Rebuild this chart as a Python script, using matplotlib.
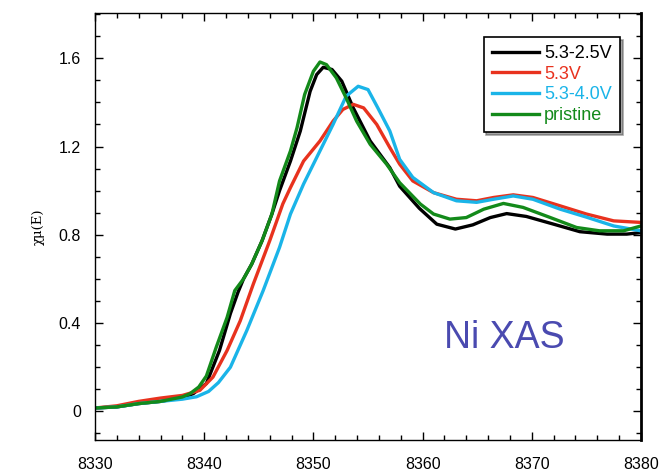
import matplotlib
matplotlib.use("Agg")
import matplotlib.pyplot as plt
from matplotlib.ticker import MultipleLocator

plt.rcParams['font.family'] = ['Liberation Sans', 'DejaVu Sans']

# energies (eV) and normalised absorption
x_black = [8330, 8332, 8334, 8336, 8338, 8339, 8340.2, 8341.4, 8342.4, 8343.1, 8343.6, 8344.35,
           8345.3, 8346.2, 8346.9, 8347.9, 8348.8, 8349.7, 8350.3, 8350.9, 8351.7, 8352.6,
           8353.65, 8355.2, 8357.0, 8357.9, 8359.7, 8361.3, 8363.0, 8364.6, 8366.2, 8367.7,
           8369.5, 8372.0, 8374.4, 8376.9, 8378.7, 8380]
y_black = [0.015, 0.02, 0.035, 0.045, 0.062, 0.08, 0.126, 0.276, 0.443, 0.54, 0.60, 0.667,
           0.773, 0.894, 1.0, 1.134, 1.27, 1.45, 1.526, 1.559, 1.549, 1.496,
           1.375, 1.225, 1.104, 1.02, 0.92, 0.848, 0.826, 0.845, 0.878, 0.896,
           0.883, 0.848, 0.814, 0.803, 0.803, 0.81]

x_red = [8330, 8332, 8334, 8336, 8338, 8339.6, 8340.8, 8342.1, 8343.3, 8344.5, 8346.0, 8347.2,
         8347.9, 8349.1, 8350.6, 8351.8, 8352.7, 8353.65, 8354.6, 8355.8, 8357.0, 8357.9,
         8359.1, 8361.0, 8363.1, 8364.95, 8366.5, 8368.3, 8370.1, 8372.6, 8375.0, 8377.5, 8380]
y_red = [0.015, 0.025, 0.045, 0.06, 0.072, 0.095, 0.155, 0.276, 0.41, 0.577, 0.773, 0.94,
         1.014, 1.134, 1.225, 1.315, 1.368, 1.391, 1.375, 1.30, 1.195, 1.12,
         1.044, 0.991, 0.961, 0.954, 0.969, 0.981, 0.969, 0.931, 0.894, 0.863, 0.856]

x_blue = [8330, 8332, 8334, 8336, 8338, 8339.3, 8340.4, 8341.3, 8342.4, 8343.9, 8345.4, 8346.9,
          8347.9, 8349.1, 8350.6, 8351.8, 8353.0, 8354.1, 8355.0, 8355.9, 8357.0, 8357.9,
          8359.1, 8361.0, 8363.1, 8364.95, 8366.5, 8368.3, 8370.1, 8372.6, 8375.0, 8377.5, 8380]
y_blue = [0.015, 0.02, 0.035, 0.045, 0.055, 0.066, 0.09, 0.13, 0.20, 0.366, 0.547, 0.743,
          0.894, 1.03, 1.18, 1.30, 1.428, 1.473, 1.458, 1.375, 1.27, 1.142,
          1.06, 0.991, 0.954, 0.947, 0.961, 0.976, 0.961, 0.916, 0.88, 0.84, 0.818]

x_green = [8330, 8332, 8334, 8336, 8338, 8338.7, 8339.5, 8340.2, 8341.1, 8342.1, 8342.8, 8343.6,
           8344.35, 8345.3, 8346.2, 8346.9, 8347.9, 8348.5, 8349.2, 8350.0, 8350.6, 8351.2,
           8352.1, 8353.0, 8353.96, 8355.2, 8356.7, 8357.9, 8359.8, 8361.0, 8362.5, 8364.0,
           8365.6, 8367.4, 8369.2, 8371.7, 8374.1, 8376.2, 8378.4, 8380]
y_green = [0.015, 0.02, 0.035, 0.045, 0.065, 0.08, 0.11, 0.16, 0.29, 0.426, 0.547, 0.60,
           0.667, 0.773, 0.894, 1.044, 1.18, 1.285, 1.436, 1.541, 1.583, 1.571,
           1.511, 1.42, 1.315, 1.21, 1.12, 1.036, 0.939, 0.894, 0.871, 0.878,
           0.916, 0.942, 0.924, 0.878, 0.833, 0.818, 0.818, 0.84]

labels = ['5.3-2.5V', '5.3V', '5.3-4.0V', 'pristine']
colors = ['#000000', '#e8321e', '#1ab4e8', '#138a1a']

fig = plt.figure(figsize=(6.66, 4.74), dpi=100)
ax = fig.add_axes([95 / 666, 34 / 474, 546 / 666, 427 / 474])

series = [(x_black, y_black), (x_red, y_red), (x_blue, y_blue), (x_green, y_green)]
for (xs, ys), lab, c in zip(series, labels, colors):
    ax.plot(xs, ys, color=c, lw=2.4, label=lab, solid_joinstyle='round')

ax.set_xlim(8330, 8380)
ax.set_ylim(-0.13, 1.805)
ax.xaxis.set_major_locator(MultipleLocator(10))
ax.xaxis.set_minor_locator(MultipleLocator(2))
ax.yaxis.set_major_locator(MultipleLocator(0.4))
ax.yaxis.set_minor_locator(MultipleLocator(0.1))
ax.yaxis.set_major_formatter(plt.FuncFormatter(lambda v, p: '0' if abs(v) < 1e-9 else f'{v:.1f}'))
ax.tick_params(which='both', direction='in', top=True, right=True, labelsize=11.5)
ax.tick_params(which='major', length=6, width=1)
ax.tick_params(which='minor', length=3.5, width=1)
ax.tick_params(axis='x', pad=12)
ax.tick_params(axis='y', pad=10)
for side in ['left', 'bottom', 'top']:
    ax.spines[side].set_linewidth(1)
ax.spines['right'].set_linewidth(2)

ax.set_ylabel('χμ(E)', family='DejaVu Serif', fontsize=9.5, labelpad=10)

leg = ax.legend(loc='upper right', bbox_to_anchor=(0.9615, 0.944), borderaxespad=0,
                fontsize=13, frameon=True, fancybox=False, shadow=True, edgecolor='black',
                handlelength=2.6, handletextpad=0.3, labelspacing=0.2, borderpad=0.45)
leg.get_frame().set_linewidth(1.2)
for txt, c in zip(leg.get_texts(), colors):
    txt.set_color(c)

ax.text(0.64, 0.215, 'Ni XAS', transform=ax.transAxes, fontsize=27, color='#4a4ab0')

fig.savefig('out.png', dpi=100)
